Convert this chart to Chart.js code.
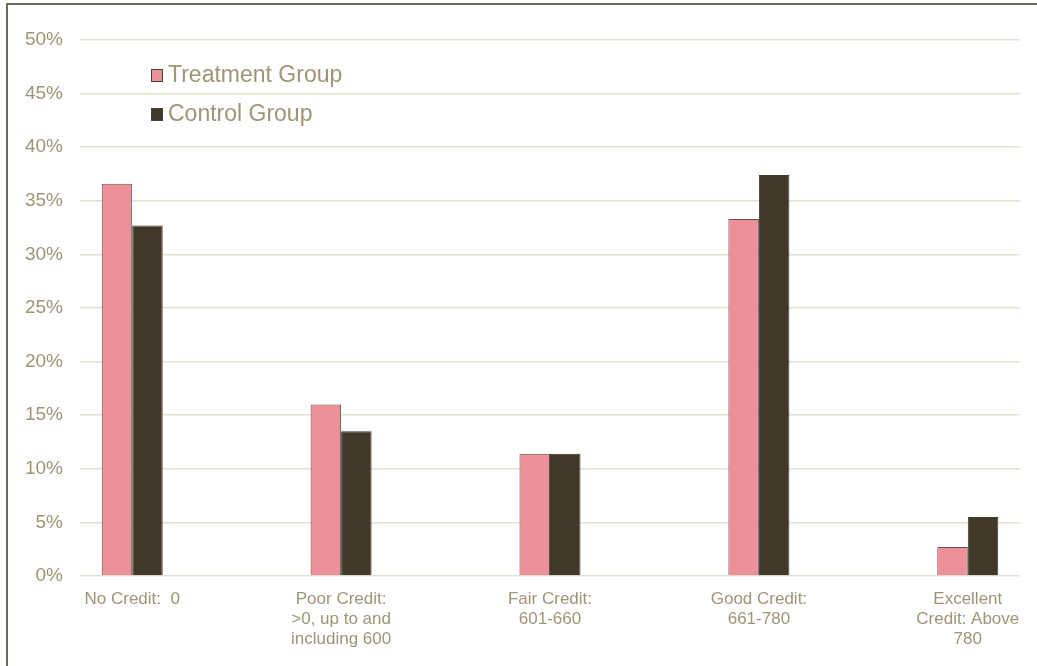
<!DOCTYPE html>
<html lang="en">
<head>
    <meta charset="UTF-8">
    <title>Credit score distribution</title>
    <script src="https://cdn.jsdelivr.net/npm/chart.js"></script>
    <style>
        html, body { margin: 0; padding: 0; background: #fff; }
        #caixa { position: relative; width: 1037px; height: 666px; }
        #moldura {
            position: absolute; left: 6px; top: 3px; right: -10px; bottom: -10px;
            border-top: 2px solid #6e6a5c; border-left: 2px solid #6e6a5c;
            pointer-events: none;
        }
    </style>
</head>
<body>
<div id="caixa">
    <canvas id="grafico" width="1037" height="666"></canvas>
    <div id="moldura"></div>
</div>
<script>
    // dados
    const categorias = [
        ['No Credit:  0'],
        ['Poor Credit:', '>0, up to and', 'including 600'],
        ['Fair Credit:', '601-660'],
        ['Good Credit:', '661-780'],
        ['Excellent', 'Credit: Above', '780']
    ];
    const tratamento = [36.6, 16.0, 11.4, 33.3, 2.7];
    const controle = [32.7, 13.5, 11.4, 37.4, 5.5];
    const ticksY = [0, 5, 10, 15, 20, 25, 30, 35, 40, 45, 50];

    const corTexto = '#9e9476';
    const fonte = 'Liberation Sans, Arial, sans-serif';

    function pontos(valores) {
        return valores.map((v, i) => ({ x: i, y: v }));
    }

    // legenda desenhada dentro da area do grafico
    const legendaInterna = {
        id: 'legendaInterna',
        afterDraw(chart) {
            const ctx = chart.ctx;
            const area = chart.chartArea;
            const x = area.left + 71;
            let y = area.top + 35;
            ctx.save();
            ctx.font = '23px ' + fonte;
            ctx.textBaseline = 'middle';
            chart.data.datasets.forEach(ds => {
                ctx.fillStyle = ds.backgroundColor;
                ctx.fillRect(x, y - 6, 12, 13);
                ctx.strokeStyle = '#4a4238';
                ctx.lineWidth = 1;
                ctx.strokeRect(x + 0.5, y - 5.5, 11, 12);
                ctx.fillStyle = corTexto;
                ctx.fillText(ds.label, x + 17, y + 1);
                y += 39;
            });
            ctx.restore();
        }
    };

    new Chart(document.getElementById('grafico'), {
        type: 'bar',
        data: {
            datasets: [{
                label: 'Treatment Group',
                data: pontos(tratamento),
                backgroundColor: '#ee9099',
                borderColor: '#5a4e45',
                borderWidth: 1,
                categoryPercentage: 0.292,
                barPercentage: 1.0
            }, {
                label: 'Control Group',
                data: pontos(controle),
                backgroundColor: '#40392a',
                borderColor: '#40392a',
                borderWidth: 1,
                categoryPercentage: 0.292,
                barPercentage: 1.0
            }]
        },
        options: {
            responsive: false,
            animation: false,
            layout: { padding: { top: 40, right: 17, left: 0, bottom: 0 } },
            plugins: {
                legend: { display: false },
                tooltip: { enabled: false }
            },
            scales: {
                x: {
                    type: 'linear',
                    offset: false,
                    min: -0.25,
                    max: 4.25,
                    grid: { display: false, offset: false },
                    border: { display: false },
                    afterBuildTicks: (eixo) => {
                        eixo.ticks = categorias.map((c, i) => ({ value: i }));
                    },
                    afterFit: (eixo) => { eixo.height = 90; },
                    ticks: {
                        color: corTexto,
                        font: { family: fonte, size: 17, lineHeight: 1.15 },
                        padding: 6,
                        maxRotation: 0,
                        autoSkip: false,
                        callback: (v) => categorias[v]
                    }
                },
                y: {
                    min: 0,
                    max: 50,
                    afterBuildTicks: (eixo) => {
                        eixo.ticks = ticksY.map(v => ({ value: v }));
                    },
                    afterFit: (eixo) => { eixo.width = 80; },
                    grid: { color: '#e6e0d4', lineWidth: 1.5, drawTicks: false },
                    border: { display: false },
                    ticks: {
                        color: corTexto,
                        font: { family: fonte, size: 19 },
                        padding: 17,
                        callback: (v) => v + '%'
                    }
                }
            }
        },
        plugins: [legendaInterna]
    });
</script>
</body>
</html>
